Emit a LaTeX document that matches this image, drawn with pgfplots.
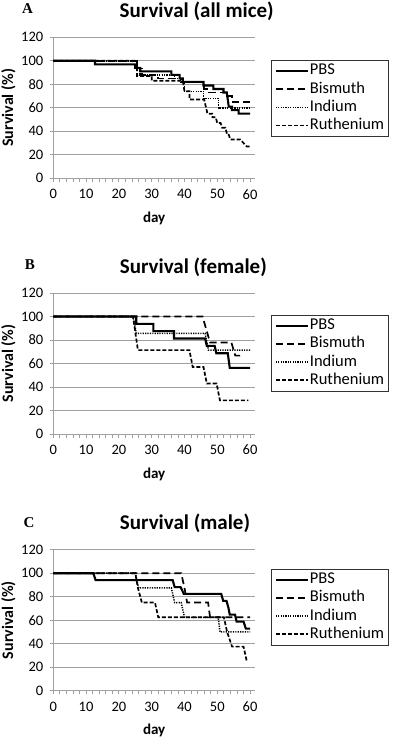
\documentclass[border=0pt]{standalone}
\usepackage{pgfplots}
\pgfplotsset{compat=1.18}
\usepackage{fontspec}
\setmainfont{Carlito}
\newfontfamily\serifb{Liberation Serif}

\definecolor{gridgray}{RGB}{160,160,160}

% shared look of the three Excel-like panels
\pgfplotsset{
  surv/.style={
    scale only axis, width=201.7pt, height=141pt,
    xmin=0, xmax=61.5, ymin=0, ymax=120,
    axis lines*=left,
    axis line style={draw=gridgray, line width=1pt, -},
    xtick={0,10,...,60}, ytick={0,20,...,120},
    minor x tick num=4,
    ymajorgrids, grid style={gridgray, line width=1pt},
    tick align=outside, major tick length=3.5pt, minor tick length=3.5pt,
    tick style={gridgray, line width=0.8pt},
    /pgf/number format/assume math mode=true,
    tick label style={font=\fontsize{14.5}{16}\selectfont, black},
    xticklabel style={yshift=-4pt},
    yticklabel style={xshift=-3pt},
    xlabel={day}, ylabel={Survival (\%)},
    xlabel style={font=\bfseries\fontsize{15}{16}\selectfont,
      at={(axis description cs:0.5,-0.284)}, anchor=center},
    ylabel style={font=\bfseries\fontsize{16}{17}\selectfont,
      at={(axis description cs:-0.223,0.5)}, anchor=center},
    legend cell align=left,
    legend image post style={xscale=1.875},
    legend style={anchor=north west, draw=black!80, line width=0.8pt,
      font=\fontsize{16.5}{18}\selectfont, inner xsep=3pt, inner ysep=2.5pt,
      row sep=2pt,
      nodes={font=\fontsize{16.5}{18}\selectfont, inner sep=1pt,
        text height=11pt, text depth=3.2pt}},
    clip=false,
  },
  pbs/.style={black, line width=2.1pt},
  bis/.style={black, line width=1.7pt, dash pattern=on 7pt off 4pt},
  ind/.style={black, line width=1.5pt, dash pattern=on 1.2pt off 1.2pt},
  rut/.style={black, line width=1.7pt, dash pattern=on 4pt off 2pt},
}

\begin{document}
\begin{tikzpicture}
\useasboundingbox (0pt,0pt) rectangle (392pt,-738pt);

% ---------------- A: all mice
\node[font=\serifb\bfseries\fontsize{15}{15}\selectfont] at (27.5pt,-8.3pt) {A};
\node[font=\bfseries\fontsize{21}{21}\selectfont] at (196.7pt,-11.7pt) {Survival (all mice)};
\begin{axis}[surv, at={(53.3pt,-178.3pt)}, anchor=south west,
  legend style={at={(1.081,0.839)}}]
\addplot[pbs] coordinates {(0,100)(12.7,100)(12.7,97)(25,97)(25,94)(26.5,94)(26.5,91)
  (36,91)(36,88)(38.5,88)(38.5,85)(39.5,85)(39.5,82)(45.8,82)(45.8,79)(48.8,79)
  (48.8,76)(51.9,76)(51.9,73)(52.9,73)(53.5,61)(54.5,61)(54.5,58)(56.5,58)(56.5,55)(60,55)};
\addplot[bis] coordinates {(0,100)(25.5,100)(25.5,94)(26.5,94)(26.5,88)(32,88)(32,85)
  (39.5,85)(39.5,82)(46,82)(46,76)(47.5,76)(47.5,73)(53,73)(53,70)(54.5,70)(54.5,65)(60,65)};
\addplot[ind] coordinates {(0,100)(25.5,100)(25.5,94)(27,94)(27,88)(37,88)(37,85)(39,85)
  (39,82)(40,82)(40,74)(45.8,74)(45.8,68)(50.4,68)(50.4,60)(60,60)};
\addplot[rut] coordinates {(0,100)(25.5,100)(25.5,87)(30,87)(30,83)(39.5,83)(40,74)
  (41.5,74)(41.5,67)(46,67)(47,55)(48.5,55)(48.5,52)(49.5,52)(50,47)(51,47)(51.5,43)
  (52.5,43)(53,37)(53.5,37)(54,33)(57,33)(58,30)(59,27)(60,27)};
\legend{PBS,Bismuth,Indium,Ruthenium}
\end{axis}

% ---------------- B: female
\node[font=\serifb\bfseries\fontsize{15}{15}\selectfont] at (30pt,-265pt) {B};
\node[font=\bfseries\fontsize{21}{21}\selectfont] at (193.3pt,-267pt) {Survival (female)};
\begin{axis}[surv, at={(53.3pt,-434pt)}, anchor=south west,
  legend style={at={(1.081,0.846)}}]
\addplot[pbs] coordinates {(0,100)(25.3,100)(25.3,93.75)(30.5,93.75)(30.5,87.5)(36.8,87.5)
  (36.8,81.25)(46.3,81.25)(46.8,75)(49.2,75)(49.7,68.75)(53.2,68.75)(53.8,56.25)(60,56.25)};
\addplot[bis] coordinates {(0,100)(45.5,100)(47.8,77.8)(54.3,77.8)(55.5,66.7)(58,66.7)};
\addplot[ind] coordinates {(0,100)(24.3,100)(25.3,85.7)(46.3,85.7)(47.3,71.4)(60,71.4)};
\addplot[rut] coordinates {(0,100)(24.3,100)(25.8,71.4)(41.5,71.4)(42.5,57.1)(45.8,57.1)
  (46.8,42.9)(49.8,42.9)(50.8,28.6)(59.5,28.6)};
\legend{PBS,Bismuth,Indium,Ruthenium}
\end{axis}

% ---------------- C: male
\node[font=\serifb\bfseries\fontsize{15}{15}\selectfont] at (29pt,-523pt) {C};
\node[font=\bfseries\fontsize{21}{21}\selectfont] at (185pt,-523pt) {Survival (male)};
\begin{axis}[surv, at={(53.3pt,-690.7pt)}, anchor=south west,
  legend style={at={(1.081,0.865)}}]
\addplot[pbs] coordinates {(0,100)(12.2,100)(12.9,94.1)(36.4,94.1)(37,88.2)(38.8,88.2)
  (39.8,82.4)(51.2,82.4)(51.8,76.5)(52.8,76.5)(53.4,70.6)(53.8,64.7)(55.4,64.7)(55.9,58.8)
  (58,58.8)(58.7,52.9)(60,52.9)};
\addplot[bis] coordinates {(0,100)(39,100)(40,87.5)(40.8,75)(47.2,75)(47.8,62.5)(60,62.5)};
\addplot[ind] coordinates {(0,100)(25,100)(26,87.5)(36,87.5)(37,75)(39,75)(40,62.5)
  (50.3,62.5)(50.8,50)(60,50)};
\addplot[rut] coordinates {(0,100)(25,100)(25.8,87.5)(27,75)(31,75)(32,62.5)(52,62.5)
  (53,50)(54.5,37.5)(58,37.5)(59,25)};
\legend{PBS,Bismuth,Indium,Ruthenium}
\end{axis}
\end{tikzpicture}
\end{document}
